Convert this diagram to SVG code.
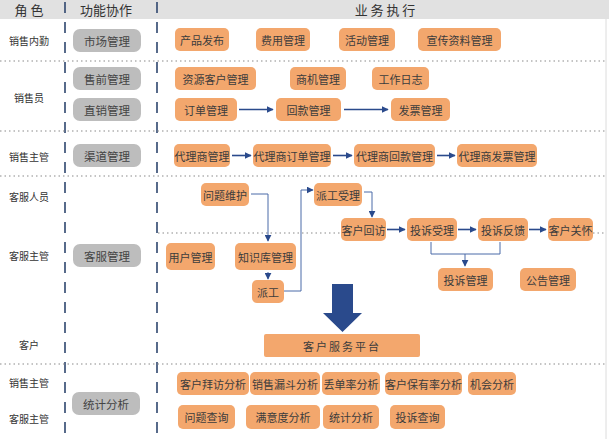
<svg xmlns="http://www.w3.org/2000/svg" width="609" height="439" viewBox="0 0 609 439">
<defs>
<style>
text{font-family:"Noto Sans CJK SC","Noto Sans",sans-serif;text-anchor:middle;dominant-baseline:central}
.hd{font-size:13px;fill:#333}
.role{font-size:10px;fill:#333}
.g rect{fill:#bdbdbd}
.g text{font-size:11.5px;fill:#444}
.o rect{fill:#f3a76d}
.o text{font-size:11px;fill:#3c3c3c}
.sep{stroke:#8a8a8a;stroke-width:1.2;stroke-dasharray:1.5 3;fill:none}
.vd{stroke:#2f466e;stroke-width:1.6;stroke-dasharray:11 9;fill:none}
.ar{stroke:#2a4a8c;stroke-width:1.6;fill:none;marker-end:url(#ah)}
.ln{stroke:#4a6aa8;stroke-width:1;fill:none}
.la{stroke:#4a6aa8;stroke-width:1;fill:none;marker-end:url(#ah)}
</style>
<marker id="ah" viewBox="0 0 10 10" refX="9" refY="5" markerWidth="7" markerHeight="7" markerUnits="userSpaceOnUse" orient="auto"><path d="M0,0 L10,5 L0,10 Z" fill="#2a4a8c"/></marker>
<marker id="ah2" viewBox="0 0 10 10" refX="9" refY="5" markerWidth="9" markerHeight="9" markerUnits="userSpaceOnUse" orient="auto"><path d="M0,0 L10,5 L0,10 Z" fill="#2a4a8c"/></marker>
</defs>
<rect x="0" y="0" width="609" height="439" fill="#ffffff"/>
<rect x="0" y="0" width="609" height="19" fill="#e1e1e1"/>
<line x1="606" y1="19" x2="606" y2="439" stroke="#dcdcdc" stroke-width="1"/>
<text class="hd" x="29" y="9">角 色</text>
<text class="hd" x="106" y="9">功能协作</text>
<text class="hd" x="385" y="9">业 务 执 行</text>
<g id="grid">
<line class="vd" x1="65" y1="2" x2="65" y2="439"/>
<line class="vd" x1="157" y1="2" x2="157" y2="439"/>
<line class="sep" x1="0" y1="61" x2="606" y2="61"/>
<line class="sep" x1="0" y1="131" x2="606" y2="131"/>
<line class="sep" x1="0" y1="176" x2="606" y2="176"/>
<line class="sep" x1="0" y1="364" x2="606" y2="364"/>
<line class="sep" x1="158" y1="233" x2="341" y2="233"/>
<line class="sep" x1="593" y1="233" x2="606" y2="233"/>
</g>
<g id="roles">
<text class="role" x="29" y="40">销售内勤</text>
<text class="role" x="29" y="97">销售员</text>
<text class="role" x="29" y="156">销售主管</text>
<text class="role" x="29" y="196">客服人员</text>
<text class="role" x="29" y="255">客服主管</text>
<text class="role" x="29" y="344">客户</text>
<text class="role" x="29" y="382">销售主管</text>
<text class="role" x="29" y="418">客服主管</text>
</g>
<g id="g1" class="g"><rect x="73" y="29" width="68" height="23" rx="7"/><text x="107" y="40.5">市场管理</text></g>
<g id="g2" class="g"><rect x="73" y="67" width="68" height="23" rx="7"/><text x="107" y="78.5">售前管理</text></g>
<g id="g3" class="g"><rect x="73" y="98" width="68" height="23" rx="7"/><text x="107" y="109.5">直销管理</text></g>
<g id="g4" class="g"><rect x="73" y="144" width="68" height="23" rx="7"/><text x="107" y="155.5">渠道管理</text></g>
<g id="g5" class="g"><rect x="73" y="244" width="68" height="23" rx="7"/><text x="107" y="255.5">客服管理</text></g>
<g id="g6" class="g"><rect x="72" y="392" width="68" height="23" rx="7"/><text x="106" y="403.5">统计分析</text></g>

<g id="n1" class="o"><rect x="175" y="28" width="54" height="23" rx="5"/><text x="202" y="39.5">产品发布</text></g>
<g id="n2" class="o"><rect x="256" y="28" width="54" height="23" rx="5"/><text x="283" y="39.5">费用管理</text></g>
<g id="n3" class="o"><rect x="339" y="28" width="56" height="23" rx="5"/><text x="367" y="39.5">活动管理</text></g>
<g id="n4" class="o"><rect x="418" y="28" width="83" height="23" rx="5"/><text x="459.5" y="39.5">宣传资料管理</text></g>

<g id="n5" class="o"><rect x="175" y="67" width="81" height="23" rx="5"/><text x="215.5" y="78.5">资源客户管理</text></g>
<g id="n6" class="o"><rect x="290" y="67" width="56" height="23" rx="5"/><text x="318" y="78.5">商机管理</text></g>
<g id="n7" class="o"><rect x="372" y="67" width="57" height="23" rx="5"/><text x="400.5" y="78.5">工作日志</text></g>
<g id="n8" class="o"><rect x="175" y="98" width="62" height="23" rx="5"/><text x="206" y="109.5">订单管理</text></g>
<g id="n9" class="o"><rect x="276" y="98" width="65" height="23" rx="5"/><text x="308.5" y="109.5">回款管理</text></g>
<g id="n10" class="o"><rect x="391" y="98" width="59" height="23" rx="5"/><text x="420.5" y="109.5">发票管理</text></g>

<g id="n11" class="o"><rect x="174" y="144" width="56" height="23" rx="5"/><text x="202" y="155.5">代理商管理</text></g>
<g id="n12" class="o"><rect x="253" y="144" width="78" height="23" rx="5"/><text x="292" y="155.5">代理商订单管理</text></g>
<g id="n13" class="o"><rect x="354" y="144" width="81" height="23" rx="5"/><text x="394.5" y="155.5">代理商回款管理</text></g>
<g id="n14" class="o"><rect x="457" y="144" width="80" height="23" rx="5"/><text x="497" y="155.5">代理商发票管理</text></g>

<g id="n15" class="o"><rect x="201" y="183" width="48" height="23" rx="5"/><text x="225" y="194.5">问题维护</text></g>
<g id="n16" class="o"><rect x="314" y="183" width="48" height="23" rx="5"/><text x="338" y="194.5">派工受理</text></g>
<g id="n17" class="o"><rect x="341" y="218" width="45" height="23" rx="5"/><text x="363.5" y="229.5">客户回访</text></g>
<g id="n18" class="o"><rect x="407" y="218" width="50" height="23" rx="5"/><text x="432" y="229.5">投诉受理</text></g>
<g id="n19" class="o"><rect x="478" y="218" width="50" height="23" rx="5"/><text x="503" y="229.5">投诉反馈</text></g>
<g id="n20" class="o"><rect x="548" y="218" width="45" height="23" rx="5"/><text x="570.5" y="229.5">客户关怀</text></g>
<g id="n21" class="o"><rect x="166" y="243" width="49" height="27" rx="5"/><text x="190.5" y="256.5">用户管理</text></g>
<g id="n22" class="o"><rect x="235" y="243" width="61" height="27" rx="5"/><text x="265.5" y="256.5">知识库管理</text></g>
<g id="n23" class="o"><rect x="252" y="280" width="32" height="23" rx="5"/><text x="268" y="291.5">派工</text></g>
<g id="n24" class="o"><rect x="438" y="268" width="55" height="23" rx="5"/><text x="465.5" y="279.5">投诉管理</text></g>
<g id="n25" class="o"><rect x="520" y="268" width="56" height="23" rx="5"/><text x="548" y="279.5">公告管理</text></g>
<g id="n26" class="o"><rect x="264" y="334" width="156" height="23" rx="2"/><text x="342" y="345.5" style="letter-spacing:2px">客户服务平台</text></g>

<g id="n27" class="o"><rect x="177" y="372" width="72" height="23" rx="5"/><text x="213" y="383.5">客户拜访分析</text></g>
<g id="n28" class="o"><rect x="250" y="372" width="70" height="23" rx="5"/><text x="285" y="383.5">销售漏斗分析</text></g>
<g id="n29" class="o"><rect x="322" y="372" width="58" height="23" rx="5"/><text x="351" y="383.5">丢单率分析</text></g>
<g id="n30" class="o"><rect x="385" y="372" width="77" height="23" rx="5"/><text x="423.5" y="383.5">客户保有率分析</text></g>
<g id="n31" class="o"><rect x="468" y="372" width="48" height="23" rx="5"/><text x="492" y="383.5">机会分析</text></g>
<g id="n32" class="o"><rect x="178" y="405" width="57" height="24" rx="5"/><text x="206.5" y="417">问题查询</text></g>
<g id="n33" class="o"><rect x="246" y="405" width="74" height="24" rx="5"/><text x="283" y="417">满意度分析</text></g>
<g id="n34" class="o"><rect x="323" y="405" width="56" height="24" rx="5"/><text x="351" y="417">统计分析</text></g>
<g id="n35" class="o"><rect x="390" y="405" width="55" height="24" rx="5"/><text x="417.5" y="417">投诉查询</text></g>

<g id="connectors">
<line class="ar" x1="239" y1="109.5" x2="273" y2="109.5"/>
<line class="ar" x1="344" y1="109.5" x2="388" y2="109.5"/>
<line class="ar" x1="232" y1="155.5" x2="251" y2="155.5"/>
<line class="ar" x1="333" y1="155.5" x2="352" y2="155.5"/>
<line class="ar" x1="437" y1="155.5" x2="455" y2="155.5"/>
<line class="ar" x1="387" y1="229.5" x2="405" y2="229.5"/>
<line class="ar" x1="458" y1="229.5" x2="476" y2="229.5"/>
<line class="ar" x1="529" y1="229.5" x2="546" y2="229.5"/>
<polyline class="la" points="251,194 268,194 268,241"/>
<line class="la" x1="268" y1="272" x2="268" y2="279"/>
<polyline class="la" points="284,291 301,291 301,190 313,190"/>
<polyline class="la" points="364,192 372,192 372,217"/>
<polyline class="ln" points="431,242 431,254 500,254 500,242"/>
<line class="la" x1="465" y1="254" x2="465" y2="266"/>
<path d="M332,284 H353 V313 H362 L342.5,332 L323,313 H332 Z" fill="#2a4a8c"/>
</g>
</svg>
